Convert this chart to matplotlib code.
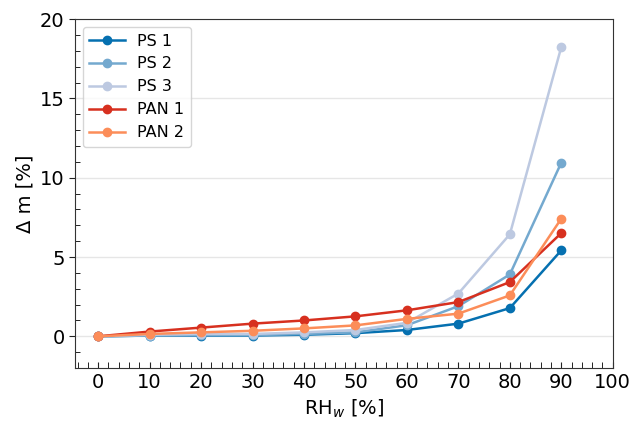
import matplotlib
matplotlib.use("Agg")
from matplotlib import pyplot as plt
from matplotlib.ticker import MultipleLocator

rh = [0, 10, 20, 30, 40, 50, 60, 70, 80, 90]
ps1 = [0, 0.05, 0.05, 0.05, 0.1, 0.2, 0.4, 0.8, 1.78, 5.42]
ps2 = [0, 0.05, 0.08, 0.08, 0.15, 0.25, 0.7, 1.9, 3.9, 10.95]
ps3 = [0, 0.1, 0.15, 0.15, 0.25, 0.4, 0.85, 2.7, 6.43, 18.24]
pan1 = [0, 0.3, 0.55, 0.8, 1.0, 1.26, 1.64, 2.16, 3.42, 6.51]
pan2 = [0, 0.15, 0.25, 0.35, 0.5, 0.69, 1.1, 1.43, 2.58, 7.42]

series = [("PS 1", ps1, "#0570b0"), ("PS 2", ps2, "#74a9cf"), ("PS 3", ps3, "#bdc9e1"),
          ("PAN 1", pan1, "#d7301f"), ("PAN 2", pan2, "#fc8d59")]

fig = plt.figure(figsize=(6.33, 4.25), dpi=100)
ax = fig.add_axes([0.1185, 0.134, 0.8495, 0.821])

for name, vals, c in series:
    ax.plot(rh, vals, "-o", color=c, lw=1.8, ms=6, label=name)

ax.set_xlim(-4.5, 100)
ax.set_ylim(-2, 20)
ax.xaxis.set_major_locator(MultipleLocator(10))
ax.xaxis.set_minor_locator(MultipleLocator(2))
ax.yaxis.set_major_locator(MultipleLocator(5))
ax.yaxis.set_minor_locator(MultipleLocator(1))
ax.tick_params(labelsize=14, colors="#222222", labelcolor="black")
ax.tick_params(axis="x", which="both", direction="in", length=4)
ax.tick_params(axis="y", which="major", direction="out", length=4)
ax.tick_params(axis="y", which="minor", direction="in", length=3.5)
ax.yaxis.grid(True, color="#e6e6e6", lw=1)
ax.set_axisbelow(True)
for s in ax.spines.values():
    s.set_color("#333333")

ax.set_xlabel("RH$_w$ [%]", fontsize=14)
ax.set_ylabel("Δ m [%]", fontsize=14)
ax.legend(loc="upper left", fontsize=11.5, handlelength=2.2, borderaxespad=0.5)

fig.savefig("out.png", dpi=100)
